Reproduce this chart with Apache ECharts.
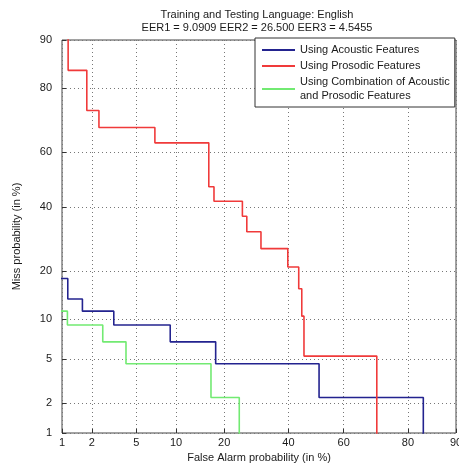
<!DOCTYPE html>
<html>
<head>
    <meta charset="utf-8">
    <title>DET curves</title>
    <script src="https://cdn.jsdelivr.net/npm/echarts@6/dist/echarts.min.js"></script>
</head>
<body style="margin:0">
    <div id="main" style="width: 459px;height:468px;"></div>
    <script type="text/javascript">
    // tick labels (in %)
    var ticks = [1, 2, 5, 10, 20, 40, 60, 80, 90];

    // staircase corners: false alarm % / miss %
    var acousticFA   = [0.9, 1.15, 1.62, 3.2, 9.09, 17.9, 51.1, 83.7, 83.7];
    var acousticMiss = [18.18, 18.18, 13.64, 11.36, 9.09, 6.82, 4.55, 2.27, 0.5];

    var prosodicFA   = [1.16, 1.79, 2.34, 7.0, 16.3, 17.5, 25.0, 26.3, 30.7, 39.8, 43.7, 44.8, 45.6, 71.1, 71.1];
    var prosodicMiss = [95, 84.2, 73.7, 68.4, 63.2, 47.4, 42.1, 36.8, 31.6, 26.3, 21.1, 15.8, 10.5, 5.26, 0.5];

    var combinedFA   = [0.9, 1.14, 2.54, 4.09, 16.8, 24.1, 24.1];
    var combinedMiss = [11.36, 11.36, 9.09, 6.82, 4.55, 2.27, 0.5];

    // inverse normal cdf (Acklam), for the normal deviate scale of a DET plot
    function probit(p) {
        var a = [-3.969683028665376e+01, 2.209460984245205e+02, -2.759285104469687e+02, 1.383577518672690e+02, -3.066479806614716e+01, 2.506628277459239e+00];
        var b = [-5.447609879822406e+01, 1.615858368580409e+02, -1.556989798598866e+02, 6.680131188771972e+01, -1.328068155288572e+01];
        var c = [-7.784894002430293e-03, -3.223964580411365e-01, -2.400758277161838e+00, -2.549732539343734e+00, 4.374664141464968e+00, 2.938163982698783e+00];
        var d = [7.784695709041462e-03, 3.224671290700398e-01, 2.445134137142996e+00, 3.754408661907416e+00];
        var pl = 0.02425, q, r;
        if (p < pl) {
            q = Math.sqrt(-2 * Math.log(p));
            return (((((c[0]*q+c[1])*q+c[2])*q+c[3])*q+c[4])*q+c[5]) / ((((d[0]*q+d[1])*q+d[2])*q+d[3])*q+1);
        }
        if (p <= 1 - pl) {
            q = p - 0.5; r = q * q;
            return (((((a[0]*r+a[1])*r+a[2])*r+a[3])*r+a[4])*r+a[5])*q / (((((b[0]*r+b[1])*r+b[2])*r+b[3])*r+b[4])*r+1);
        }
        q = Math.sqrt(-2 * Math.log(1 - p));
        return -(((((c[0]*q+c[1])*q+c[2])*q+c[3])*q+c[4])*q+c[5]) / ((((d[0]*q+d[1])*q+d[2])*q+d[3])*q+1);
    }

    function toPoints(fa, miss) {
        return fa.map(function (f, i) {
            return [probit(f / 100), probit(miss[i] / 100)];
        });
    }

    var tickPos = ticks.map(function (t) { return probit(t / 100); });
    function tickLabel(v) {
        for (var i = 0; i < tickPos.length; i++) {
            if (Math.abs(tickPos[i] - v) < 1e-6) return String(ticks[i]);
        }
        return '';
    }

    var font = 'Liberation Sans, Arial, sans-serif';
    var txt = '#1a1a1a';

    function makeAxis(name, gap, margin) {
        return {
            type: 'value',
            min: probit(ticks[0] / 100),
            max: probit(ticks[ticks.length - 1] / 100),
            name: name,
            nameLocation: 'middle',
            nameGap: gap,
            nameTextStyle: {fontFamily: font, fontSize: 11, color: txt},
            axisLine: {show: false, onZero: false},
            axisTick: {show: true, inside: true, length: 4, customValues: tickPos,
                lineStyle: {color: '#333'}},
            axisLabel: {customValues: tickPos, formatter: tickLabel, margin: margin,
                fontFamily: font, fontSize: 11, color: txt},
            splitLine: {show: true, lineStyle: {color: '#777', width: 1, type: [1, 3]}}
        };
    }

    var myChart = echarts.init(document.getElementById('main'));
    var option = {
        animation: false,
        backgroundColor: '#fff',
        title: {
            text: 'Training and Testing Language: English\nEER1 = 9.0909 EER2 = 26.500 EER3 = 4.5455',
            left: 257,
            top: 8,
            padding: 0,
            textAlign: 'center',
            textStyle: {fontFamily: font, fontSize: 11, fontWeight: 'normal', color: txt, lineHeight: 13}
        },
        legend: {
            orient: 'vertical',
            left: 255,
            top: 38,
            padding: [5, 5, 4, 7],
            itemGap: 2,
            itemWidth: 33,
            itemHeight: 2,
            icon: 'rect',
            backgroundColor: '#fff',
            borderColor: '#333',
            borderWidth: 1,
            borderRadius: 0,
            textStyle: {fontFamily: font, fontSize: 11, color: txt, lineHeight: 14}
        },
        grid: {
            left: 62, top: 40, right: 3, bottom: 35,
            outerBoundsMode: 'none',
            show: true, borderColor: '#444', borderWidth: 1
        },
        xAxis: makeAxis('False Alarm probability (in %)', 17, 4),
        yAxis: makeAxis('Miss probability (in %)', 40, 10),
        series: [
            {
                name: 'Using Acoustic Features',
                type: 'line', step: 'start', showSymbol: false,
                color: '#23238f',
                lineStyle: {width: 1.6},
                data: toPoints(acousticFA, acousticMiss)
            },
            {
                name: 'Using Prosodic Features',
                type: 'line', step: 'start', showSymbol: false,
                color: '#f03a3a',
                lineStyle: {width: 1.6},
                data: toPoints(prosodicFA, prosodicMiss)
            },
            {
                name: 'Using Combination of Acoustic\nand Prosodic Features',
                type: 'line', step: 'start', showSymbol: false,
                color: '#72ea72',
                lineStyle: {width: 1.6},
                data: toPoints(combinedFA, combinedMiss)
            }
        ]
    };
    myChart.setOption(option);
    </script>
</body>
</html>
